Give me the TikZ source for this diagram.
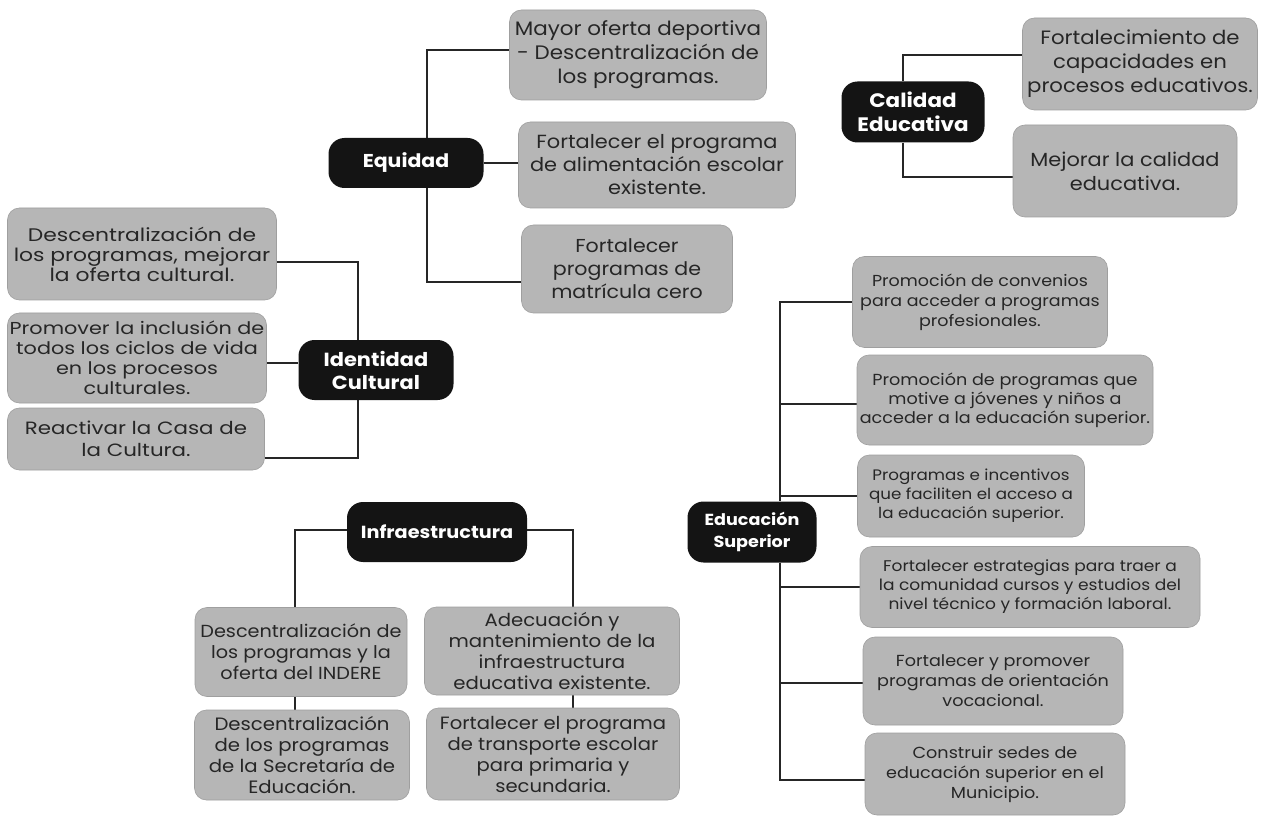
\documentclass[tikz,border=0pt]{standalone}
\usepackage{fontspec}
\setmainfont{Poppins}[FakeStretch=1.1]
\newfontfamily\wider{Poppins}[FakeStretch=1.2]
\usetikzlibrary{backgrounds}
\newcommand{\fz}[2]{\fontsize{#1}{#2}\selectfont}
\tikzset{
  item/.style={fill=gray!57, draw=gray!75, line width=0.6pt, rounded corners=12pt, align=center, inner sep=0pt, text=black!85},
  head/.style={fill=black!92, text=white, rounded corners=16pt, align=center, inner sep=0pt},
  link/.style={draw=black!85, line width=1.3pt},
}
\begin{document}
\begin{tikzpicture}[x=1pt,y=-1pt]
\useasboundingbox (0,0) rectangle (1286,821);
% Equidad
\node[head, minimum width=155pt, minimum height=50pt, font=\bfseries\fz{18.6}{22}] (eq) at (406,163) {Equidad};
\node[item, minimum width=257pt, minimum height=90pt, font=\fz{19.5}{24}] (eq1) at (638,55) {Mayor oferta deportiva\\- Descentralización de\\los programas.};
\node[item, minimum width=277pt, minimum height=86pt, font=\fz{19}{23}] (eq2) at (657,165) {Fortalecer el programa\\de alimentación escolar\\existente.};
\node[item, minimum width=211pt, minimum height=88pt, font=\fz{18.7}{23}] (eq3) at (627,269) {Fortalecer\\programas de\\matrícula cero};
% Calidad Educativa
\node[head, minimum width=143pt, minimum height=61pt, font=\bfseries\fz{19.5}{24}] (ce) at (913,112) {Calidad\\Educativa};
\node[item, minimum width=235pt, minimum height=92pt, font=\fz{19.3}{24}] (ce1) at (1140,64) {Fortalecimiento de\\capacidades en\\procesos educativos.};
\node[item, minimum width=224pt, minimum height=92pt, font=\fz{19}{24}] (ce2) at (1125,171) {Mejorar la calidad\\educativa.};
% Identidad Cultural
\node[head, minimum width=155pt, minimum height=60pt, font=\bfseries\fz{19}{23}] (ic) at (376,370) {Identidad\\Cultural};
\node[item, minimum width=269pt, minimum height=92pt, font=\wider\fz{18.2}{20}] (ic1) at (142,254) {Descentralización de\\los programas, mejorar\\la oferta cultural.};
\node[item, minimum width=259pt, minimum height=90pt, font=\wider\fz{17.3}{20}] (ic2) at (137,358) {Promover la inclusión de\\todos los ciclos de vida\\en los procesos\\culturales.};
\node[item, minimum width=257pt, minimum height=62pt, font=\wider\fz{17.8}{22}] (ic3) at (136,439) {Reactivar la Casa de\\la Cultura.};
% Infraestructura
\node[head, minimum width=180pt, minimum height=60pt, font=\bfseries\fz{17.5}{22}] (in) at (437,532) {Infraestructura};
\node[item, minimum width=212pt, minimum height=89pt, font=\fz{17.5}{21}] (in1) at (301,652) {Descentralización de\\los programas y la\\oferta del INDERE};
\node[item, minimum width=255pt, minimum height=88pt, font=\fz{17.9}{21}] (in2) at (552,651) {Adecuación y\\mantenimiento de la\\infraestructura\\educativa existente.};
\node[item, minimum width=215pt, minimum height=90pt, font=\fz{17.9}{21}] (in3) at (302,755) {Descentralización\\de los programas\\de la Secretaría de\\Educación.};
\node[item, minimum width=253pt, minimum height=92pt, font=\fz{17.8}{21}] (in4) at (553,754) {Fortalecer el programa\\de transporte escolar\\para primaria y\\secundaria.};
% Educacion Superior
\node[head, minimum width=129pt, minimum height=61pt, font=\bfseries\fz{16}{22}] (es) at (752,532) {Educación\\Superior};
\coordinate (esx) at (780,0);
\node[item, minimum width=255pt, minimum height=91pt, font=\fz{15.9}{20}] (es1) at (980,302) {Promoción de convenios\\para acceder a programas\\profesionales.};
\node[item, minimum width=296pt, minimum height=90pt, font=\fz{16}{19}] (es2) at (1005,400) {Promoción de programas que\\motive a jóvenes y niños a\\acceder a la educación superior.};
\node[item, minimum width=227pt, minimum height=82pt, font=\fz{15.2}{19}] (es3) at (971,496) {Programas e incentivos\\que faciliten el acceso a\\la educación superior.};
\node[item, minimum width=340pt, minimum height=81pt, font=\fz{15.5}{19}] (es4) at (1030,587) {Fortalecer estrategias para traer a\\la comunidad cursos y estudios del\\nivel técnico y formación laboral.};
\node[item, minimum width=260pt, minimum height=88pt, font=\fz{16}{20}] (es5) at (993,681) {Fortalecer y promover\\programas de orientación\\vocacional.};
\node[item, minimum width=260pt, minimum height=82pt, font=\fz{16}{20}] (es6) at (995,774) {Construir sedes de\\educación superior en el\\Municipio.};
% connectors
\begin{scope}[on background layer]
\fill[white] (0,0) rectangle (1286,821);
\draw[link] ([yshift=5pt]eq1.west) -| ([xshift=21pt]eq.north);
\draw[link] (eq.east) -- (eq.east -| eq2.west);
\draw[link] ([xshift=21pt]eq.south) |- ([yshift=-13pt]eq3.west);
\draw[link] ([yshift=9pt]ce1.west) -| ([xshift=-10pt]ce.north);
\draw[link] ([xshift=-10pt]ce.south) |- ([yshift=-6pt]ce2.west);
\draw[link] ([yshift=-8pt]ic1.east) -| ([xshift=-18pt]ic.north);
\draw[link] ([yshift=-5pt]ic2.east) -- ([yshift=-5pt]ic2.east -| ic.west);
\draw[link] ([xshift=-18pt]ic.south) |- ([yshift=-19pt]ic3.east);
\draw[link] ([yshift=2pt]in.west) -| ([xshift=-6pt]in1.north);
\draw[link] ([yshift=2pt]in.east) -| ([xshift=21pt]in2.north);
\draw[link] ([xshift=-6pt]in1.south) -- ([xshift=-6pt]in1.south |- in3.north);
\draw[link] ([xshift=21pt]in2.south) -- ([xshift=21pt]in2.south |- in4.north);
\draw[link] (es1.west) -| (es.north -| esx);
\draw[link] (es.south -| esx) |- ([yshift=-6pt]es6.west);
\draw[link] ([yshift=-4pt]es2.west) -- ([yshift=-4pt]es2.west -| esx);
\draw[link] (es3.west) -- (es3.west -| esx);
\draw[link] (es4.west) -- (es4.west -| esx);
\draw[link] ([yshift=-2pt]es5.west) -- ([yshift=-2pt]es5.west -| esx);
\end{scope}
\end{tikzpicture}
\end{document}
